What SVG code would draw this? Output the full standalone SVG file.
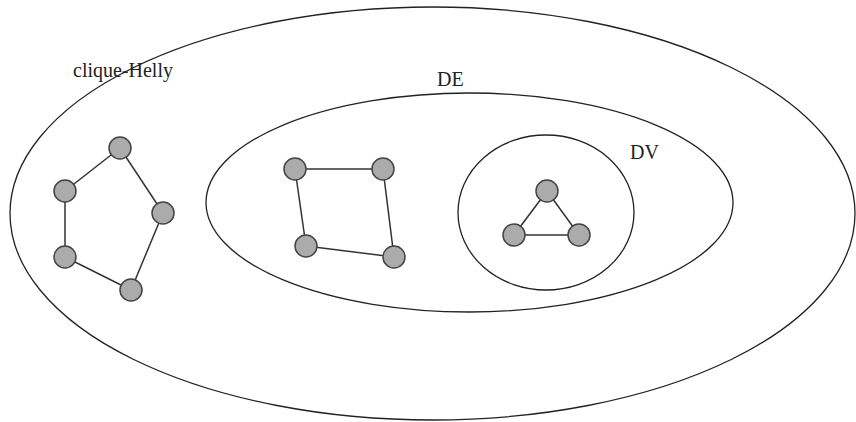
<svg xmlns="http://www.w3.org/2000/svg" width="856" height="422" viewBox="0 0 856 422">
<style>
.region{fill:none;stroke:#222;stroke-width:1.3}
.node{fill:#ababab;stroke:#444;stroke-width:1.5}
.edge{stroke:#333;stroke-width:1.5;fill:none}
.label{font-family:"Liberation Serif","Times New Roman",serif;font-size:20px;fill:#222}
</style>
<rect width="856" height="422" fill="#fff"/>
<g id="regions">
<ellipse id="region-clique-helly" class="region" cx="432.5" cy="213.5" rx="422.5" ry="206.5"/>
<ellipse id="region-de" class="region" cx="469.5" cy="202.5" rx="263.5" ry="109.5"/>
<ellipse id="region-dv" class="region" cx="546" cy="212.5" rx="88" ry="77.5"/>
</g>
<g id="labels">
<text class="label" x="73" y="77">clique-Helly</text>
<text class="label" x="437" y="86">DE</text>
<text class="label" x="630" y="159">DV</text>
</g>
<g id="connectors">
<line class="edge" x1="120" y1="148" x2="65" y2="191"/>
<line class="edge" x1="120" y1="148" x2="163" y2="213"/>
<line class="edge" x1="65" y1="191" x2="65" y2="257"/>
<line class="edge" x1="65" y1="257" x2="131" y2="290"/>
<line class="edge" x1="163" y1="213" x2="131" y2="290"/>
<line class="edge" x1="295" y1="169" x2="383" y2="169"/>
<line class="edge" x1="295" y1="169" x2="306" y2="246"/>
<line class="edge" x1="383" y1="169" x2="394" y2="257"/>
<line class="edge" x1="306" y1="246" x2="394" y2="257"/>
<line class="edge" x1="547" y1="191" x2="514" y2="235"/>
<line class="edge" x1="547" y1="191" x2="579" y2="235"/>
<line class="edge" x1="514" y1="235" x2="579" y2="235"/>
</g>
<g id="n1"><circle class="node" cx="120" cy="148" r="11"/></g>
<g id="n2"><circle class="node" cx="65" cy="191" r="11"/></g>
<g id="n3"><circle class="node" cx="163" cy="213" r="11"/></g>
<g id="n4"><circle class="node" cx="65" cy="257" r="11"/></g>
<g id="n5"><circle class="node" cx="131" cy="290" r="11"/></g>
<g id="s1"><circle class="node" cx="295" cy="169" r="11"/></g>
<g id="s2"><circle class="node" cx="383" cy="169" r="11"/></g>
<g id="s3"><circle class="node" cx="306" cy="246" r="11"/></g>
<g id="s4"><circle class="node" cx="394" cy="257" r="11"/></g>
<g id="t1"><circle class="node" cx="547" cy="191" r="11"/></g>
<g id="t2"><circle class="node" cx="514" cy="235" r="11"/></g>
<g id="t3"><circle class="node" cx="579" cy="235" r="11"/></g>
</svg>
